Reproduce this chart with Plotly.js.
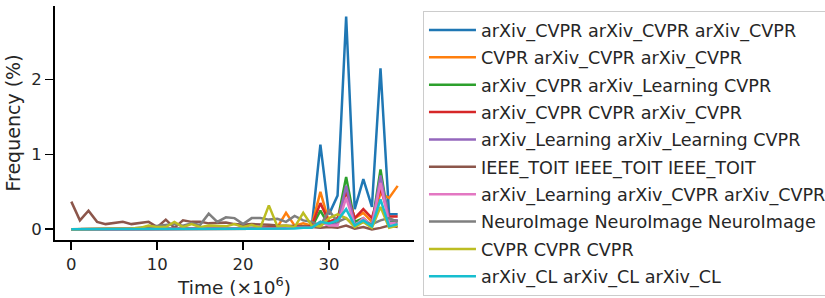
<!DOCTYPE html>
<html>
<head>
<meta charset="utf-8">
<script src="https://cdn.plot.ly/plotly-3.0.1.min.js"></script>
<style>html,body{margin:0;padding:0;background:#fff;}#chart{width:825px;height:298px;}</style>
</head>
<body>
<div id="chart"></div>
<script>
const timeSteps = Array.from({length: 39}, (_, i) => i);
const seriesNames = [
  "arXiv_CVPR arXiv_CVPR arXiv_CVPR",
  "CVPR arXiv_CVPR arXiv_CVPR",
  "arXiv_CVPR arXiv_Learning CVPR",
  "arXiv_CVPR CVPR arXiv_CVPR",
  "arXiv_Learning arXiv_Learning CVPR",
  "IEEE_TOIT IEEE_TOIT IEEE_TOIT",
  "arXiv_Learning arXiv_CVPR arXiv_CVPR",
  "NeuroImage NeuroImage NeuroImage",
  "CVPR CVPR CVPR",
  "arXiv_CL arXiv_CL arXiv_CL"
];
const seriesColors = ["#1f77b4","#ff7f0e","#2ca02c","#d62728","#9467bd","#8c564b","#e377c2","#7f7f7f","#bcbd22","#17becf"];

const arxivCvpr3 = [0,0,0,0,0,0,0,0,0,0,0,0,0,0,0,0,0.01,0.01,0.01,0.01,0.01,0.02,0.02,0.02,0.03,0.02,0.03,0.03,0.04,1.13,0.2,0.45,2.84,0.27,0.67,0.3,2.15,0.2,0.2];
const cvprArxivArxiv = [0,0,0,0,0,0,0,0,0,0,0,0,0,0,0,0,0,0,0,0,0.01,0.01,0.01,0.02,0.03,0.22,0.05,0.08,0.05,0.5,0.1,0.12,0.52,0.15,0.22,0.1,0.48,0.42,0.58];
const arxivLearnCvpr = [0,0,0,0,0,0,0,0,0,0,0,0,0,0,0.01,0.01,0.01,0.01,0.01,0.01,0.01,0.01,0.01,0.02,0.02,0.02,0.02,0.03,0.03,0.25,0.05,0.12,0.7,0.1,0.15,0.05,0.8,0.1,0.12];
const arxivCvprArxiv = [0,0,0,0,0,0,0,0,0,0,0,0,0,0,0,0,0.01,0.01,0.01,0.01,0.01,0.01,0.02,0.02,0.02,0.03,0.03,0.03,0.05,0.35,0.1,0.15,0.5,0.15,0.27,0.15,0.55,0.17,0.17];
const learnLearnCvpr = [0,0,0,0,0,0,0,0,0,0,0,0,0,0,0,0,0,0,0,0,0.01,0.01,0.01,0.01,0.01,0.02,0.02,0.02,0.03,0.1,0.05,0.08,0.58,0.06,0.12,0.05,0.72,0.12,0.12];
const ieeeToit = [0.37,0.12,0.25,0.1,0.07,0.08,0.1,0.07,0.08,0.1,0.03,0.13,0.02,0.12,0.1,0.1,0.08,0.09,0.09,0.07,0.06,0.07,0.07,0.06,0.05,0.05,0.04,0.04,0.03,0.02,0.03,0.02,0.05,0.01,0.03,0.0,0.02,0.05,0.03];
const learnArxivArxiv = [0,0,0,0,0,0,0,0,0,0,0,0,0,0,0,0,0,0,0,0,0,0.01,0.01,0.01,0.01,0.01,0.02,0.02,0.02,0.1,0.05,0.05,0.42,0.05,0.15,0.05,0.62,0.08,0.08];
const neuroImage = [0,0,0,0,0,0,0,0.01,0.02,0.03,0.05,0.05,0.07,0.05,0.08,0.06,0.21,0.1,0.16,0.15,0.07,0.15,0.15,0.13,0.14,0.1,0.18,0.12,0.1,0.05,0.25,0.1,0.15,0.05,0.1,0.07,0.12,0.15,0.1];
const cvpr3 = [0,0,0,0,0,0,0,0.01,0.02,0.05,0.03,0.03,0.1,0.03,0.07,0.03,0.05,0.05,0.04,0.07,0.03,0.06,0.02,0.32,0.04,0.05,0.03,0.22,0.05,0.04,0.15,0.2,0.15,0.03,0.1,0.02,0.3,0.02,0.05];
const arxivCl3 = [0,0,0,0,0,0,0,0,0,0,0,0,0,0,0,0,0,0,0,0,0,0,0.01,0.01,0.01,0.01,0.01,0.02,0.02,0.1,0.08,0.12,0.27,0.05,0.12,0.04,0.4,0.04,0.07];

const seriesValues = [arxivCvpr3, cvprArxivArxiv, arxivLearnCvpr, arxivCvprArxiv, learnLearnCvpr, ieeeToit, learnArxivArxiv, neuroImage, cvpr3, arxivCl3];

const traces = seriesValues.map((vals, i) => ({
  x: timeSteps, y: vals, type: 'scatter', mode: 'lines',
  name: seriesNames[i], legendgroup: 'g' + i,
  line: {color: seriesColors[i], width: 2.5}
}));

const font = {family: 'DejaVu Sans', size: 16, color: '#262626'};
const axisCommon = {
  showgrid: false, zeroline: false, showline: true, linecolor: '#000', linewidth: 2,
  ticks: 'outside', ticklen: 8, tickwidth: 1.8, tickcolor: '#000',
  tickfont: {family: 'DejaVu Sans', size: 16.5, color: '#262626'}
};
const layout = {
  width: 825, height: 298,
  margin: {l: 55, r: 411, t: 6, b: 58, autoexpand: false},
  paper_bgcolor: '#fff', plot_bgcolor: '#fff',
  font: font,
  showlegend: true,
  legend: {
    x: 1.025, xanchor: 'left', y: 0.9786, yanchor: 'top',
    bordercolor: '#cccccc', borderwidth: 1, bgcolor: '#fff',
    tracegroupgap: 1.5, itemwidth: 47, maxheight: 400,
    font: {family: 'DejaVu Sans', size: 17.6, color: '#262626'}
  },
  xaxis: Object.assign({}, axisCommon, {
    range: [-1.9, 39.9], tickvals: [0, 10, 20, 30],
    title: {text: 'Time (×10<sup>6</sup>)', font: {family: 'DejaVu Sans', size: 18.5, color: '#262626'}, standoff: 6}
  }),
  yaxis: Object.assign({}, axisCommon, {
    range: [-0.142, 2.98], tickvals: [0, 1, 2],
    title: {text: 'Frequency (%)', font: {family: 'DejaVu Sans', size: 19, color: '#262626'}, standoff: 6}
  })
};
Plotly.newPlot('chart', traces, layout, {displayModeBar: false, staticPlot: true});
</script>
</body>
</html>
